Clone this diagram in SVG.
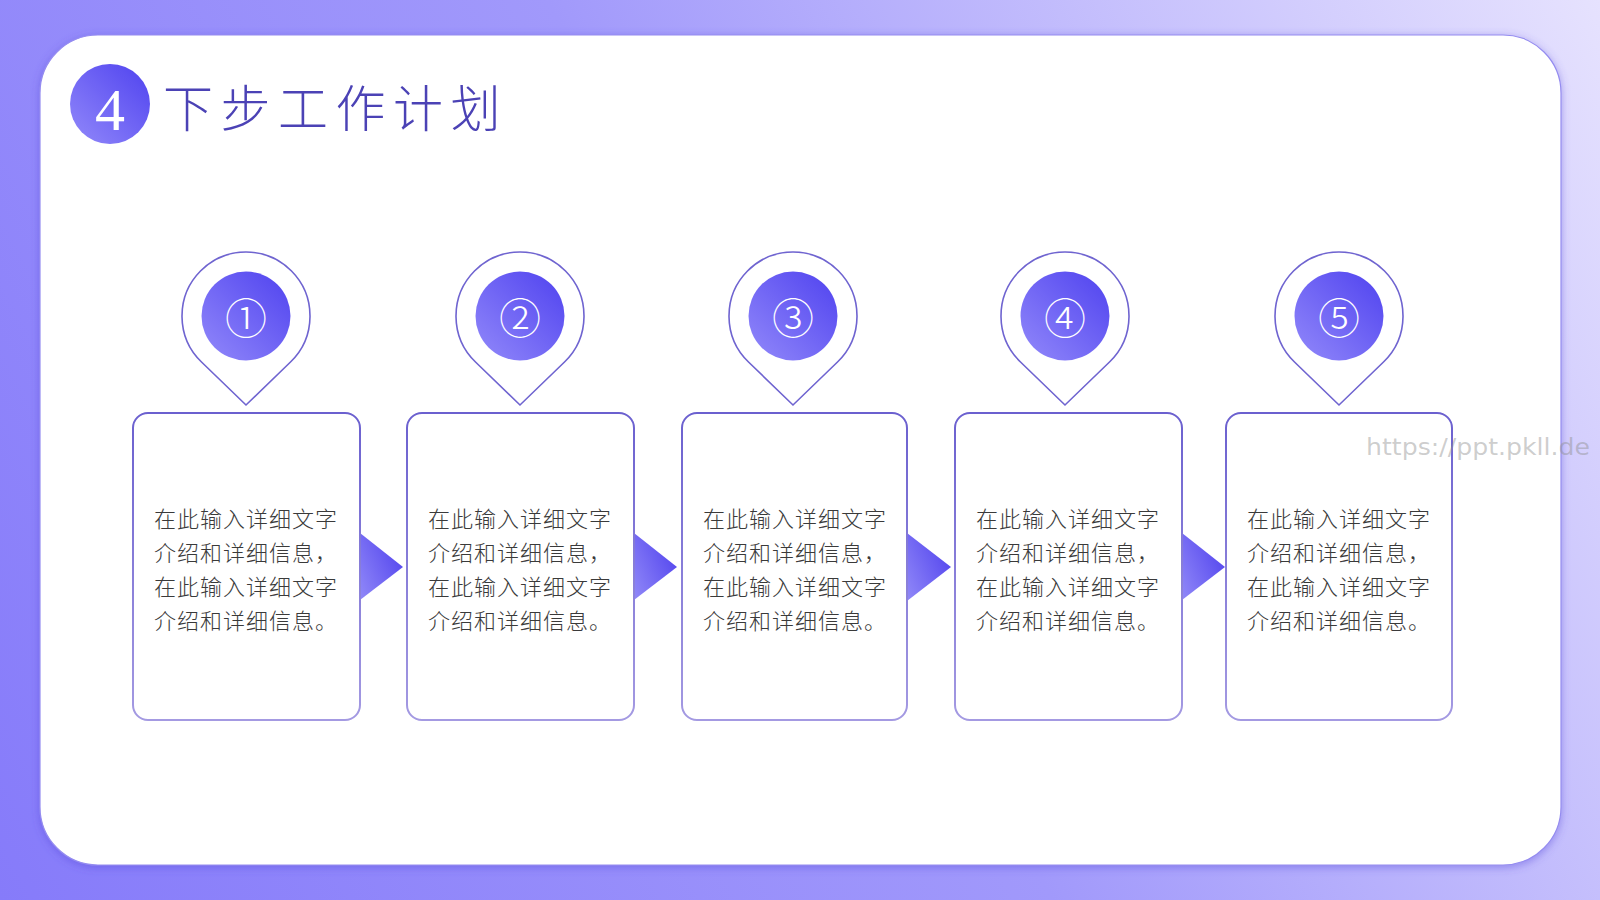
<svg xmlns="http://www.w3.org/2000/svg" width="1600" height="900" viewBox="0 0 1600 900">
  <defs>
    <linearGradient id="bg" x1="0" y1="900" x2="1600" y2="0" gradientUnits="userSpaceOnUse">
      <stop offset="0" stop-color="#867bfa"/>
      <stop offset="0.5" stop-color="#a199fb"/>
      <stop offset="1" stop-color="#e6e2fe"/>
    </linearGradient>
    <linearGradient id="ball" x1="0" y1="1" x2="1" y2="0">
      <stop offset="0" stop-color="#9289fa"/>
      <stop offset="1" stop-color="#4f42ef"/>
    </linearGradient>
    <linearGradient id="tri" x1="0" y1="1" x2="1" y2="0.3">
      <stop offset="0" stop-color="#9189f8"/>
      <stop offset="1" stop-color="#5446ee"/>
    </linearGradient>
    <linearGradient id="boxstroke" x1="0" y1="0" x2="0" y2="1">
      <stop offset="0" stop-color="#6b60cf"/>
      <stop offset="1" stop-color="#a49ae2"/>
    </linearGradient>
    <filter id="cardshadow" x="-5%" y="-5%" width="110%" height="110%">
      <feDropShadow dx="0" dy="2" stdDeviation="4" flood-color="#5446d8" flood-opacity="0.45"/>
    </filter>
    <path id="pin" d="M0,405 L-44.5,362 A64,64 0 1 1 44.5,362 Z"/>
  </defs>
  <style>
    .pin { fill: #ffffff; stroke: #6f64d0; stroke-width: 1.6; }
    .ball { fill: url(#ball); }
    .num { font-family: "Noto Sans CJK SC", "DejaVu Sans", sans-serif; font-size: 42px; fill: #ffffff; text-anchor: middle; font-weight: 300; }
    .box { fill: #ffffff; stroke: url(#boxstroke); stroke-width: 2; }
    .body { font-family: "Noto Sans CJK SC", sans-serif; font-size: 22px; fill: #3a3a3a; letter-spacing: 1px; font-weight: 300; }
    .arrow { fill: url(#tri); }
    .big4 { font-family: "Liberation Serif", "DejaVu Serif", serif; font-size: 60px; fill: #ffffff; text-anchor: middle; }
    .title { font-family: "Noto Sans CJK SC", sans-serif; font-size: 50px; font-weight: 300; letter-spacing: 7.5px; fill: #4b42b5; }
    .wm { font-family: "DejaVu Sans", sans-serif; font-size: 23px; fill: #8f8f8f; fill-opacity: 0.45; }
  </style>

  <rect x="0" y="0" width="1600" height="900" fill="url(#bg)"/>
  <rect x="40" y="35" width="1521" height="830" rx="58" ry="58" fill="#ffffff" stroke="#958cf0" stroke-width="1.2" filter="url(#cardshadow)"/>

  <g id="title">
    <circle cx="110" cy="104" r="40" fill="url(#ball)"/>
    <text class="big4" x="110" y="130">4</text>
    <text class="title" x="163" y="127">下步工作计划</text>
  </g>

  <g id="connectors">
    <polygon class="arrow" points="360,533 403,567 360,600"/>
    <polygon class="arrow" points="634,533 677,567 634,600"/>
    <polygon class="arrow" points="907,533 951,567 907,601"/>
    <polygon class="arrow" points="1182,533 1225,567 1182,600"/>
  </g>

  <g id="step1">
    <use href="#pin" class="pin" transform="translate(246,0)"/>
    <circle class="ball" cx="246" cy="316" r="44.5"/>
    <text class="num" x="246" y="334">①</text>
    <rect class="box" x="133" y="413" width="227" height="307" rx="15" ry="15"/>
    <text class="body" x="154" y="527">在此输入详细文字</text>
    <text class="body" x="154" y="561">介绍和详细信息，</text>
    <text class="body" x="154" y="595">在此输入详细文字</text>
    <text class="body" x="154" y="629">介绍和详细信息。</text>
  </g>

  <g id="step2">
    <use href="#pin" class="pin" transform="translate(520,0)"/>
    <circle class="ball" cx="520" cy="316" r="44.5"/>
    <text class="num" x="520" y="334">②</text>
    <rect class="box" x="407" y="413" width="227" height="307" rx="15" ry="15"/>
    <text class="body" x="428" y="527">在此输入详细文字</text>
    <text class="body" x="428" y="561">介绍和详细信息，</text>
    <text class="body" x="428" y="595">在此输入详细文字</text>
    <text class="body" x="428" y="629">介绍和详细信息。</text>
  </g>

  <g id="step3">
    <use href="#pin" class="pin" transform="translate(793,0)"/>
    <circle class="ball" cx="793" cy="316" r="44.5"/>
    <text class="num" x="793" y="334">③</text>
    <rect class="box" x="682" y="413" width="225" height="307" rx="15" ry="15"/>
    <text class="body" x="703" y="527">在此输入详细文字</text>
    <text class="body" x="703" y="561">介绍和详细信息，</text>
    <text class="body" x="703" y="595">在此输入详细文字</text>
    <text class="body" x="703" y="629">介绍和详细信息。</text>
  </g>

  <g id="step4">
    <use href="#pin" class="pin" transform="translate(1065,0)"/>
    <circle class="ball" cx="1065" cy="316" r="44.5"/>
    <text class="num" x="1065" y="334">④</text>
    <rect class="box" x="955" y="413" width="227" height="307" rx="15" ry="15"/>
    <text class="body" x="976" y="527">在此输入详细文字</text>
    <text class="body" x="976" y="561">介绍和详细信息，</text>
    <text class="body" x="976" y="595">在此输入详细文字</text>
    <text class="body" x="976" y="629">介绍和详细信息。</text>
  </g>

  <g id="step5">
    <use href="#pin" class="pin" transform="translate(1339,0)"/>
    <circle class="ball" cx="1339" cy="316" r="44.5"/>
    <text class="num" x="1339" y="334">⑤</text>
    <rect class="box" x="1226" y="413" width="226" height="307" rx="15" ry="15"/>
    <text class="body" x="1247" y="527">在此输入详细文字</text>
    <text class="body" x="1247" y="561">介绍和详细信息，</text>
    <text class="body" x="1247" y="595">在此输入详细文字</text>
    <text class="body" x="1247" y="629">介绍和详细信息。</text>
  </g>

  <text class="wm" x="1366" y="455" textLength="224" lengthAdjust="spacingAndGlyphs">https://ppt.pkll.de</text>
</svg>
